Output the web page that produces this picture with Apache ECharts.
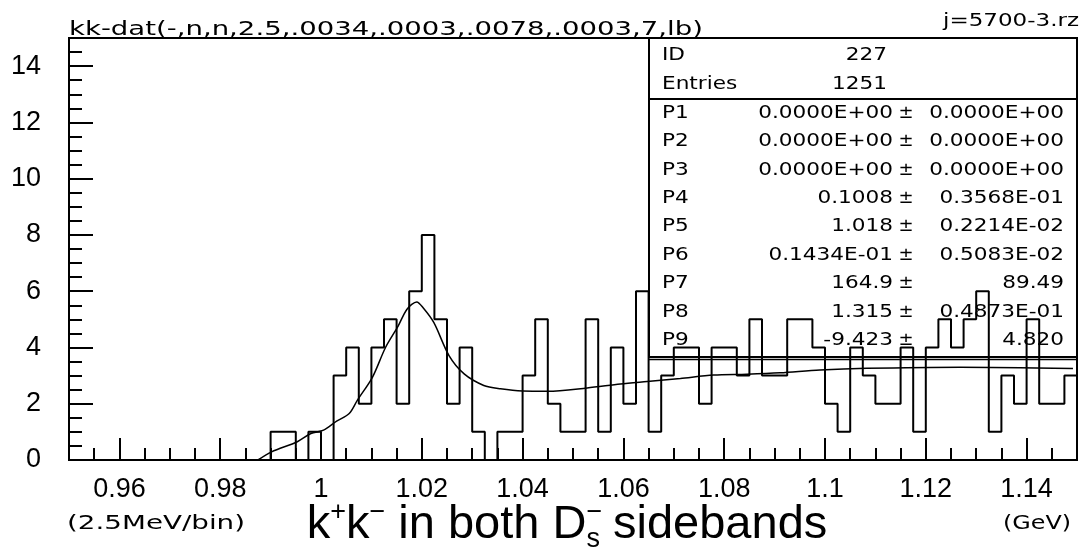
<!DOCTYPE html>
<html>
<head>
<meta charset="utf-8">
<title>kk-dat</title>
<script src="https://cdn.jsdelivr.net/npm/echarts@6/dist/echarts.min.js"></script>
<style>
  html, body { margin: 0; padding: 0; background: #fff; }
  #main { width: 1084px; height: 555px; }
</style>
</head>
<body>
<div id="main"></div>
<script>
// histogram: 2.5 MeV bins from 0.95 to 1.15 GeV
var binStart = 0.95;
var binWidth = 0.0025;
var counts = [
  0,0,0,0,0,0,0,0,0,0,   // 0.950 - 0.975
  0,0,0,0,0,0,1,1,0,1,   // 0.975 - 1.000
  0,3,4,2,4,5,2,6,8,5,   // 1.000 - 1.025
  2,4,1,0,1,1,3,5,2,1,   // 1.025 - 1.050
  1,5,1,4,2,6,1,3,4,4,   // 1.050 - 1.075
  2,4,4,3,5,3,3,5,5,4,   // 1.075 - 1.100
  2,1,4,3,2,2,4,1,4,5,   // 1.100 - 1.125
  4,5,6,1,3,2,5,2,2,3    // 1.125 - 1.150
];

// fitted curve
var fitX = [0.9875, 0.9902, 0.9953, 0.9980, 1.0005, 1.0031, 1.0056, 1.0072, 1.0102, 1.0128,
            1.0153, 1.0171, 1.0190, 1.0203, 1.0224, 1.0254, 1.0284, 1.0323, 1.0356, 1.0400,
            1.0450, 1.0528, 1.0594, 1.0647, 1.0713, 1.0779, 1.0845, 1.0911, 1.0990, 1.1083,
            1.1268, 1.1492];
var fitY = [0.00, 0.29, 0.65, 0.94, 1.06, 1.38, 1.65, 2.12, 2.94, 4.00,
            4.76, 5.37, 5.62, 5.40, 4.88, 3.71, 3.06, 2.65, 2.53, 2.45,
            2.44, 2.56, 2.70, 2.79, 2.90, 3.02, 3.05, 3.10, 3.20, 3.26,
            3.30, 3.25];

// statistics box
var statHead = [['ID', '227'], ['Entries', '1251']];
var parNames = ['P1', 'P2', 'P3', 'P4', 'P5', 'P6', 'P7', 'P8', 'P9'];
var parValues = ['0.0000E+00', '0.0000E+00', '0.0000E+00', '0.1008', '1.018', '0.1434E-01', '164.9', '1.315', '-9.423'];
var parErrors = ['0.0000E+00', '0.0000E+00', '0.0000E+00', '0.3568E-01', '0.2214E-02', '0.5083E-02', '89.49', '0.4873E-01', '4.820'];

var histTitle = 'kk-dat(-,n,n,2.5,.0034,.0003,.0078,.0003,7,lb)';
var fileName = 'j=5700-3.rz';

var myChart = echarts.init(document.getElementById('main'));

var histData = [];
for (var i = 0; i < counts.length; i++) {
  histData.push([+(binStart + i * binWidth).toFixed(4), counts[i]]);
}
histData.push([+(binStart + counts.length * binWidth).toFixed(4), counts[counts.length - 1]]);

var fitData = [];
for (var j = 0; j < fitX.length; j++) {
  fitData.push([fitX[j], fitY[j]]);
}

// text helpers
var ctx = document.createElement('canvas').getContext('2d');
function textW(s, font) { ctx.font = font; return ctx.measureText(s).width; }

var PIX = "'DejaVu Sans'";
var SANS = "'Liberation Sans'";
function txt(x, baseline, s, size, family, align, sx) {
  return {
    type: 'text', x: x, y: baseline - 0.35 * size, scaleX: sx || 1, silent: true, z: 100,
    style: { text: s, font: size + 'px ' + family, fill: '#000',
             textAlign: align || 'left', textVerticalAlign: 'middle' }
  };
}
// stretch a text to a width seen on the picture
function fitTxt(x, baseline, s, size, family, align, width) {
  return txt(x, baseline, s, size, family, align, width / textW(s, size + 'px ' + family));
}

var g = [];
g.push(fitTxt(69, 37, histTitle, 20, PIX, 'left', 634));
g.push(fitTxt(1079, 28, fileName, 18, PIX, 'right', 136));
g.push(fitTxt(67, 531, '(2.5MeV/bin)', 19, PIX, 'left', 178));
g.push(fitTxt(1071, 531, '(GeV)', 19, PIX, 'right', 68));

// stats box frame
g.push({ type: 'rect', z: 100, silent: true, shape: { x: 649, y: 38, width: 428, height: 319 },
         style: { fill: 'none', stroke: '#000', lineWidth: 2 } });
g.push({ type: 'line', z: 100, silent: true, shape: { x1: 649, y1: 99, x2: 1077, y2: 99 },
         style: { stroke: '#000', lineWidth: 2 } });
g.push({ type: 'line', z: 100, silent: true, shape: { x1: 649, y1: 359.5, x2: 1077, y2: 359.5 },
         style: { stroke: '#000', lineWidth: 1.5 } });

var sSize = 18, sScale = 1.2;
for (var h = 0; h < statHead.length; h++) {
  var by = 61.5 + h * 29;
  g.push(txt(662, by, statHead[h][0], sSize, PIX, 'left', sScale));
  g.push(txt(887, by, statHead[h][1], sSize, PIX, 'right', sScale));
}
for (var p = 0; p < parNames.length; p++) {
  var py = 119.5 + p * 28.4;
  g.push(txt(662, py, parNames[p], sSize, PIX, 'left', sScale));
  g.push(txt(893, py, parValues[p], sSize, PIX, 'right', sScale));
  g.push(txt(906, py, '\u00b1', sSize, PIX, 'center', 1));
  g.push(txt(1064, py, parErrors[p], sSize, PIX, 'right', sScale));
}

// axis title with super/subscripts
var bigSize = 47, smallSize = 27;
var bigFont = bigSize + 'px ' + SANS;
var smallFont = smallSize + 'px ' + SANS;
var parts = [
  { t: 'k' }, { t: '+', sup: true }, { t: 'k' }, { t: '\u2212', sup: true },
  { t: ' in both D' }, { t: 's', sub: true, over: '\u2212' }, { t: ' sidebands' }
];
var total = 0;
parts.forEach(function (pt) { pt.w = textW(pt.t, (pt.sup || pt.sub) ? smallFont : bigFont); total += pt.w; });
var cx = 567 - total / 2, base = 541;
parts.forEach(function (pt) {
  if (pt.sup) {
    g.push(txt(cx, base - 19, pt.t, smallSize, SANS, 'left'));
  } else if (pt.sub) {
    g.push(txt(cx, base + 8, pt.t, smallSize, SANS, 'left'));
    g.push(txt(cx, base - 19, pt.over, smallSize, SANS, 'left'));
  } else {
    g.push(txt(cx, base, pt.t, bigSize, SANS, 'left'));
  }
  cx += pt.w;
});

var option = {
  animation: false,
  backgroundColor: '#fff',
  grid: {
    left: 69, right: 7, top: 38, bottom: 95,
    show: true, borderColor: '#000', borderWidth: 2, backgroundColor: 'transparent'
  },
  xAxis: {
    type: 'value', min: 0.95, max: 1.15, splitNumber: 10,
    axisLine: { lineStyle: { color: '#000', width: 2 } },
    axisTick: { inside: true, length: 22, lineStyle: { color: '#000', width: 2 } },
    minorTick: { show: true, splitNumber: 4, length: 12, lineStyle: { color: '#000', width: 2 } },
    splitLine: { show: false },
    axisLabel: {
      color: '#000', fontSize: 27, fontFamily: 'Liberation Sans', margin: 16,
      showMinLabel: false, showMaxLabel: false,
      formatter: function (v) { return String(+v.toFixed(2)); }
    }
  },
  yAxis: {
    type: 'value', min: 0, max: 15, interval: 2,
    axisLine: { lineStyle: { color: '#000', width: 2 } },
    axisTick: { inside: true, length: 24, lineStyle: { color: '#000', width: 2 } },
    minorTick: { show: true, splitNumber: 4, length: 13, lineStyle: { color: '#000', width: 2 } },
    splitLine: { show: false },
    axisLabel: {
      color: '#000', fontSize: 27, fontFamily: 'Liberation Sans', margin: 28,
      showMaxLabel: false
    }
  },
  series: [
    {
      name: 'histogram', type: 'line', step: 'end', data: histData,
      symbol: 'none', lineStyle: { color: '#000', width: 2 }
    },
    {
      name: 'fit', type: 'line', smooth: 0.3, data: fitData,
      symbol: 'none', lineStyle: { color: '#000', width: 1.5 }
    }
  ],
  graphic: g
};
myChart.setOption(option);
</script>
</body>
</html>
